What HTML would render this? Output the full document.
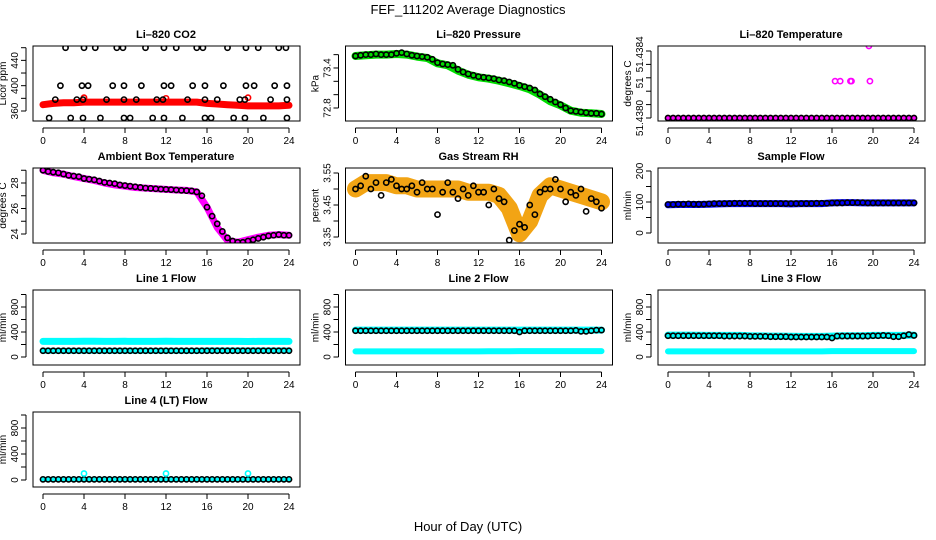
<!DOCTYPE html>
<html><head><meta charset="utf-8">
<style>
body{margin:0;background:#fff;}
svg{display:block;font-family:"Liberation Sans",Arial,sans-serif;}
</style></head>
<body>
<svg id="fig" width="936" height="540" viewBox="0 0 936 540">
<text x="468" y="14" text-anchor="middle" font-size="13">FEF_111202  Average Diagnostics</text>
<text x="468" y="531" text-anchor="middle" font-size="13">Hour of Day (UTC)</text>
</svg>
<script>
// ---------- data ----------
const hoursHalf = [0,0.5,1,1.5,2,2.5,3,3.5,4,4.5,5,5.5,6,6.5,7,7.5,8,8.5,9,9.5,10,10.5,11,11.5,12,12.5,13,13.5,14,14.5,15,15.5,16,16.5,17,17.5,18,18.5,19,19.5,20,20.5,21,21.5,22,22.5,23,23.5,24];
const hoursFull = [0,1,2,3,4,5,6,7,8,9,10,11,12,13,14,15,16,17,18,19,20,21,22,23,24];
const xTicks = [0,4,8,12,16,20,24];

// CO2
const co2BlackHours = [2.2,4,5.1,7.2,7.8,10,11.8,13,15,15.6,18,19.8,21,23,23.7, 1.7,3.8,4.4,6.8,7.9,9.6,11.8,12.5,14.6,15.8,17.6,19.8,20.6,22.6,23.8, 1.2,3.3,3.9,6.2,7.9,9.1,11.1,11.7,14.1,15.8,17,19.2,19.7,22.2,23.8, 0.6,2.7,3.9,5.6,7.9,8.5,10.7,11.8,13.6,15.8,16.4,18.6,19.7,21.5,23.8];
const co2BlackValues = [460,460,460,460,460,460,460,460,460,460,460,460,460,460,460, 400,400,400,400,400,400,400,400,400,400,400,400,400,400,400, 378,378,378,378,378,378,378,378,378,378,378,378,378,378,378, 349,349,349,349,349,349,349,349,349,349,349,349,349,349,349];
const co2Red = [370,372,373,373,374,374,374,374,374,374,374,374,374,374,374,374,372,371,370,369,368,368,368,368,369];
const co2RedSpikeHours = [4,12,20];
const co2RedSpikeValues = [381,380,381];

// Pressure
const presBlack = [73.58,73.59,73.6,73.6,73.61,73.6,73.6,73.6,73.62,73.63,73.61,73.59,73.58,73.57,73.56,73.53,73.48,73.46,73.45,73.44,73.38,73.34,73.31,73.29,73.27,73.26,73.25,73.24,73.22,73.21,73.19,73.17,73.14,73.12,73.1,73.07,73.01,72.97,72.93,72.89,72.85,72.8,72.76,72.75,72.74,72.73,72.72,72.72,72.71];
const presGreen = [73.58,73.59,73.6,73.6,73.61,73.6,73.57,73.55,73.47,73.44,73.36,73.3,73.26,73.24,73.21,73.17,73.13,73.08,73.0,72.9,72.84,72.76,72.73,72.72,72.71];

// Li-820 temperature
const ltBlack = hoursHalf.map(()=>51.4380);
const ltPink = [51.4380,51.4380,51.4380,51.4380,51.4380,51.4380,51.4380,51.4380,51.4380,51.4380,51.4380,51.4380,51.4380,51.4380,51.4380,51.4380,51.4380,51.4380,51.4380,51.4380,51.4380,51.4380,51.4380,51.4380,51.4380];
const ltPinkHours = [16.3,16.8,17.8,17.9,19.7,19.6];
const ltPinkValues = [51.43822,51.43822,51.43822,51.43822,51.43822,51.43843];

// Ambient temp
const ambBlack = [29.0,28.9,28.85,28.8,28.7,28.6,28.55,28.5,28.35,28.3,28.25,28.15,28.05,28.0,27.95,27.85,27.8,27.75,27.7,27.65,27.6,27.58,27.55,27.52,27.5,27.48,27.45,27.42,27.4,27.38,27.3,27.0,26.1,25.4,24.8,24.2,23.7,23.45,23.35,23.35,23.45,23.55,23.65,23.75,23.85,23.9,23.95,23.9,23.9];
const ambMagenta = [29.0,28.8,28.7,28.5,28.35,28.2,28.0,27.85,27.75,27.65,27.6,27.55,27.5,27.45,27.42,27.3,26.1,24.5,23.5,23.35,23.55,23.75,23.9,23.95,23.9];

// Gas stream RH
const rhBlack = [3.50,3.51,3.54,3.50,3.52,3.48,3.52,3.53,3.51,3.50,3.50,3.51,3.49,3.52,3.50,3.50,3.42,3.49,3.52,3.49,3.47,3.50,3.48,3.51,3.49,3.49,3.45,3.50,3.47,3.46,3.34,3.37,3.39,3.38,3.45,3.42,3.49,3.50,3.50,3.53,3.50,3.46,3.49,3.48,3.50,3.43,3.47,3.46,3.44];
const rhOrange = [3.50,3.52,3.52,3.52,3.51,3.51,3.50,3.50,3.50,3.50,3.50,3.49,3.49,3.49,3.48,3.44,3.36,3.40,3.48,3.51,3.50,3.49,3.48,3.47,3.46];

// Sample flow
const sfBlack = [92,92,93,93,94,93,93,93,94,95,95,95,95,96,96,96,96,95,95,95,95,95,95,95,95,95,95,95,95,96,96,96,97,97,97,98,98,98,98,97,97,97,97,97,97,97,97,97,97];
const sfBlue = [91,92,92,92,93,94,95,95,95,95,95,95,94,95,95,95,97,98,98,97,97,97,97,97,97];

// Line flows
const l1Black = hoursHalf.map(()=>100);
const l1CyanHigh = [250,250,250,250,252,252,250,250,252,250,250,250,252,250,250,250,250,250,250,250,248,250,250,250,250];
const l1CyanLow = [100,100,100,100,100,100,100,100,100,100,100,100,100,100,100,100,105,105,105,105,105,105,105,105,105];
const l2Black = [420,420,420,420,420,420,420,420,420,420,420,420,420,420,420,420,420,420,420,420,420,420,420,420,420,420,420,420,420,420,420,420,400,420,420,420,420,420,420,420,420,420,420,425,410,410,420,430,430];
const l2CyanHigh = [430,430,430,430,430,430,430,430,430,430,430,430,430,430,430,430,430,430,430,430,430,430,430,430,430];
const l2CyanLow = [90,90,90,90,90,90,90,90,90,90,90,90,90,92,92,92,95,95,95,95,95,95,95,95,95];
const l3Black = [340,340,340,340,340,340,340,340,340,340,340,335,335,335,335,335,330,330,330,330,325,325,325,325,320,320,320,320,320,320,320,320,305,335,335,335,335,335,335,335,340,340,345,340,325,325,340,360,345];
const l3CyanHigh = [350,350,350,348,346,345,345,345,340,338,335,335,332,330,330,330,335,340,340,340,345,345,345,345,350];
const l3CyanLow = [90,90,90,90,90,90,90,90,90,90,90,90,90,90,90,90,95,95,95,95,95,95,95,95,95];
const l4Black = hoursHalf.map(()=>10);
const l4Cyan = [10,10,10,10,10,10,10,10,10,10,10,10,10,10,10,10,10,10,10,10,10,10,10,10,10];
const l4SpikeHours = [4,12,20];
const l4SpikeValues = [100,100,100];

// ---------- drawing ----------
const NS='http://www.w3.org/2000/svg';
const svg=document.getElementById('fig');
function mk(tag,attrs,parent){const e=document.createElementNS(NS,tag);for(const k in attrs)e.setAttribute(k,attrs[k]);(parent||svg).appendChild(e);return e;}

function panel(cfg){
  const g=mk('g',{});
  
  
  const x0=43+cfg.col*312.5, xW=246;
  const top=46+cfg.row*122, bot=top+75;
  const sx=h=>x0+h/24*xW;
  const sy=v=>cfg.y0px-(v-cfg.v0)*cfg.ppu;
  // title
  const t=mk('text',{x:x0+xW/2,y:top-8,'text-anchor':'middle','font-size':11,'font-weight':'bold'},g);
  t.textContent=cfg.title;
  
  
  // clip
  const cid='c'+cfg.row+'_'+cfg.col;
  const cp=mk('clipPath',{id:cid},g);mk('rect',{x:x0-10,y:top,width:xW+21,height:bot-top},cp);
  const pg=mk('g',{'clip-path':'url(#'+cid+')'},g);
  // bands
  (cfg.bands||[]).forEach(b=>{
    const pts=b.h.map((h,i)=>sx(h).toFixed(1)+','+sy(b.v[i]).toFixed(1)).join(' ');
    const pl=mk('polyline',{points:pts,fill:'none',stroke:b.color,'stroke-width':b.w,'stroke-linejoin':'round','stroke-linecap':'round'},pg);
    
    
  });
  (cfg.points||[]).forEach(p=>{
    p.h.forEach((h,i)=>{
      const c=mk('circle',{cx:sx(h),cy:sy(p.v[i]),r:p.r||2.6,fill:'none',stroke:p.color,'stroke-width':p.sw||1.6},pg);
      
      
    });
  });
  // box
  const bx=mk('rect',{x:x0-10,y:top,width:xW+21,height:bot-top,fill:'none',stroke:'#000','stroke-width':1},g);
  
  
  // x axis
  const ay=bot+7;
  mk('line',{x1:sx(0),x2:sx(24),y1:ay,y2:ay,stroke:'#000'},g);
  xTicks.forEach(h=>{
    mk('line',{x1:sx(h),x2:sx(h),y1:ay,y2:ay+5,stroke:'#000'},g);
    const tl=mk('text',{x:sx(h),y:ay+16,'text-anchor':'middle','font-size':10},g);
    tl.textContent=h;
    
    
  });
  // y axis
  const axx=x0-17;
  const yt=cfg.yTicks;
  mk('line',{x1:axx,x2:axx,y1:sy(yt[0]),y2:sy(yt[yt.length-1]),stroke:'#000'},g);
  yt.forEach(v=>mk('line',{x1:axx-5,x2:axx,y1:sy(v),y2:sy(v),stroke:'#000'},g));
  cfg.yLabels.forEach((lab,i)=>{
    const yy=sy(cfg.yLabelVals[i]);
    const tl=mk('text',{x:0,y:0,'text-anchor':'middle','font-size':10,transform:`translate(${axx-8},${yy}) rotate(-90)`},g);
    tl.textContent=lab;
    
    
  });
  const yl=mk('text',{x:0,y:0,'text-anchor':'middle','font-size':10,transform:`translate(${axx-20},${(top+bot)/2}) rotate(-90)`},g);
  yl.textContent=cfg.ylab;
  
  
}

const flowTicks=[0,200,400,600,800,1000];
panel({name:'co2-panel',title:'Li\u2013820 CO2',row:0,col:0,v0:360,y0px:111,ppu:0.633,ylab:'Licor ppm',
  yTicks:[360,380,400,420,440,460],yLabels:['360','400','440'],yLabelVals:[360,400,440],
  bands:[{h:hoursFull,v:co2Red,color:'#ff0000',w:7}],
  points:[{h:co2RedSpikeHours,v:co2RedSpikeValues,color:'#ff0000'},{h:co2BlackHours,v:co2BlackValues,color:'#000'}]});
panel({name:'pressure-panel',title:'Li\u2013820 Pressure',row:0,col:1,v0:72.8,y0px:108,ppu:66.7,ylab:'kPa',
  yTicks:[72.8,73.0,73.2,73.4,73.6],yLabels:['72.8','73.4'],yLabelVals:[72.8,73.4],
  bands:[{h:hoursFull,v:presGreen,color:'#00dd00',w:8}],
  points:[{h:hoursHalf,v:presBlack,color:'#000'}]});
panel({name:'li820-temperature-panel',title:'Li\u2013820 Temperature',row:0,col:2,v0:51.4380,y0px:118,ppu:167500,ylab:'degrees C',
  yTicks:[51.4380,51.43808,51.43816,51.43824,51.43832,51.4384],yLabels:['51.4380','51','51.4384'],yLabelVals:[51.4380,51.43821,51.43838],
  bands:[{h:hoursFull,v:ltPink,color:'#ff00ff',w:5}],
  points:[{h:hoursHalf,v:ltBlack,color:'#000'},{h:ltPinkHours,v:ltPinkValues,color:'#ff00ff'}]});
panel({name:'ambient-temperature-panel',title:'Ambient Box Temperature',row:1,col:0,v0:24,y0px:234,ppu:12.75,ylab:'degrees C',
  yTicks:[24,25,26,27,28,29],yLabels:['24','26','28'],yLabelVals:[24,26,28],
  bands:[{h:hoursFull,v:ambMagenta,color:'#ff00ff',w:7}],
  points:[{h:hoursHalf,v:ambBlack,color:'#000'}]});
panel({name:'gas-rh-panel',title:'Gas Stream RH',row:1,col:1,v0:3.35,y0px:237,ppu:320,ylab:'percent',
  yTicks:[3.35,3.40,3.45,3.50,3.55],yLabels:['3.35','3.45','3.55'],yLabelVals:[3.35,3.45,3.55],
  bands:[{h:hoursFull,v:rhOrange,color:'#f2a414',w:17}],
  points:[{h:hoursHalf,v:rhBlack,color:'#000'}]});
panel({name:'sample-flow-panel',title:'Sample Flow',row:1,col:2,v0:0,y0px:233,ppu:0.31,ylab:'ml/min',
  yTicks:[0,50,100,150,200],yLabels:['0','100','200'],yLabelVals:[0,100,200],
  bands:[{h:hoursFull,v:sfBlue,color:'#0000ff',w:7}],
  points:[{h:hoursHalf,v:sfBlack,color:'#000'}]});
panel({name:'line1-flow-panel',title:'Line 1 Flow',row:2,col:0,v0:0,y0px:357,ppu:0.0625,ylab:'ml/min',
  yTicks:flowTicks,yLabels:['0','400','800'],yLabelVals:[0,400,800],
  bands:[{h:hoursFull,v:l1CyanHigh,color:'#00ffff',w:7},{h:hoursFull,v:l1CyanLow,color:'#00ffff',w:6}],
  points:[{h:hoursHalf,v:l1Black,color:'#000'}]});
panel({name:'line2-flow-panel',title:'Line 2 Flow',row:2,col:1,v0:0,y0px:357,ppu:0.0625,ylab:'ml/min',
  yTicks:flowTicks,yLabels:['0','400','800'],yLabelVals:[0,400,800],
  bands:[{h:hoursFull,v:l2CyanHigh,color:'#00ffff',w:7},{h:hoursFull,v:l2CyanLow,color:'#00ffff',w:6}],
  points:[{h:hoursHalf,v:l2Black,color:'#000'}]});
panel({name:'line3-flow-panel',title:'Line 3 Flow',row:2,col:2,v0:0,y0px:357,ppu:0.0625,ylab:'ml/min',
  yTicks:flowTicks,yLabels:['0','400','800'],yLabelVals:[0,400,800],
  bands:[{h:hoursFull,v:l3CyanHigh,color:'#00ffff',w:7},{h:hoursFull,v:l3CyanLow,color:'#00ffff',w:6}],
  points:[{h:hoursHalf,v:l3Black,color:'#000'}]});
panel({name:'line4-flow-panel',title:'Line 4 (LT) Flow',row:3,col:0,v0:0,y0px:480,ppu:0.065,ylab:'ml/min',
  yTicks:flowTicks,yLabels:['0','400','800'],yLabelVals:[0,400,800],
  bands:[{h:hoursFull,v:l4Cyan,color:'#00ffff',w:5}],
  points:[{h:hoursHalf,v:l4Black,color:'#000'},{h:l4SpikeHours,v:l4SpikeValues,color:'#00ffff'}]});
</script>
</body></html>
